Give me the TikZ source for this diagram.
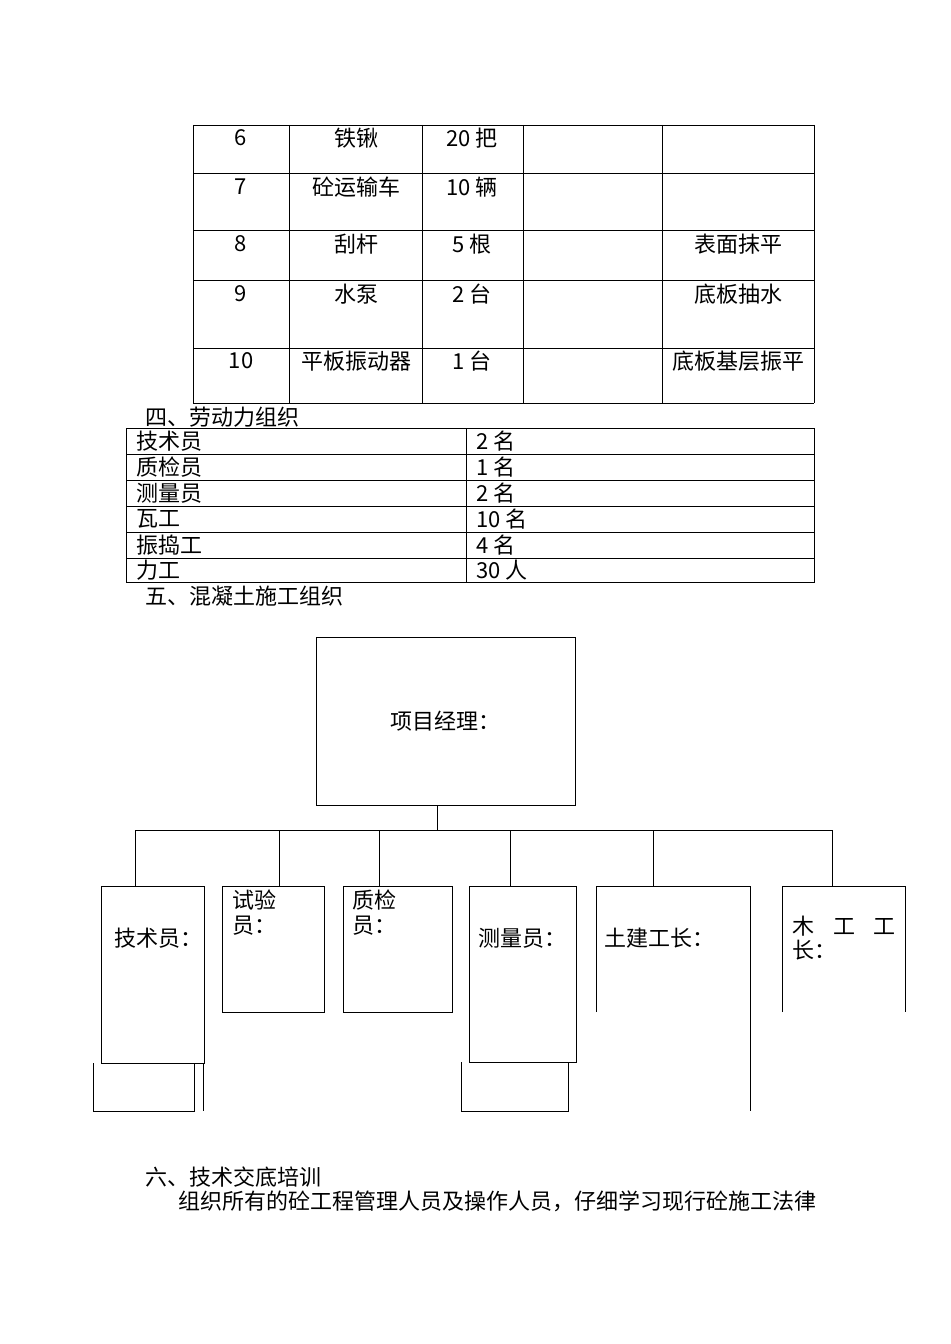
\documentclass[tikz,border=0pt]{standalone}
\usepackage{fontspec}
\setmainfont{Liberation Serif}
\newfontfamily\cjk{Noto Sans CJK SC}
\begin{document}
\begin{tikzpicture}[x=0.75pt,y=-0.75pt,line width=0.6pt,
  tx/.style={font=\cjk\fontsize{16.5}{19}\selectfont,inner sep=0pt},
  lt/.style={tx,anchor=west}]
\useasboundingbox[fill=white] (0,0) rectangle (950,1344);
% top table
\foreach \x in {193,289,422,523,662,814} \draw (\x,125) -- (\x,403);
\foreach \y in {125,173,230,280,348,403} \draw (193,\y) -- (814,\y);
\foreach \y/\a/\b/\c/\d in {138/6/铁锹/20 把/, 187/7/砼运输车/10 辆/, 244/8/刮杆/5 根/表面抹平, 294/9/水泵/2 台/底板抽水, 361/10/平板振动器/1 台/底板基层振平}{
  \node[tx] at (241,\y) {\a};
  \node[tx] at (356,\y) {\b};
  \node[tx] at (472,\y) {\c};
  \node[tx] at (738,\y) {\d};
}
\node[lt] (h4) at (145,417) {四、劳动力组织};
% labor table
\draw (126,428) rectangle (814,582);
\draw (466,428) -- (466,582);
\foreach \y in {454,480,506,532,558} \draw (126,\y) -- (814,\y);
\foreach \y/\a/\b in {441/技术员/2 名, 467/质检员/1 名, 493/测量员/2 名, 519/瓦工/10 名, 545/振捣工/4 名, 570/力工/30 人}{
  \node[lt] at (136,\y) {\a};
  \node[lt] at (476,\y) {\b};
}
\node[lt] (h5) at (145,596) {五、混凝土施工组织};
% org chart
\node[draw,minimum width=259*0.75pt,minimum height=168*0.75pt,tx,inner sep=0pt] (pm) at (445.5,721) {项目经理：};
\coordinate (j) at (437,830);
\draw (pm.south -| j) -- (j);
\draw (135,830) -- (832,830);
\foreach \x in {135,279,379,510,653,832} \draw (\x,830) -- (\x,886);
\draw (101,886) rectangle (204,1063);
\draw (93,1063) -- (93,1111) -- (194,1111) -- (194,1063);
\draw (203,1063) -- (203,1111);
\draw (222,886) rectangle (324,1012);
\draw (343,886) rectangle (452,1012);
\draw (469,886) rectangle (576,1062);
\draw (461,1062) -- (461,1111) -- (568,1111) -- (568,1062);
\draw (596,1012) -- (596,886) -- (750,886) -- (750,1111);
\draw (782,1012) -- (782,886) -- (905,886) -- (905,1012);
\node[lt] (t1) at (114,938) {技术员：};
\node[lt] (t2) at (232,900) {试验};
\node[lt] at (232,926) {员：};
\node[lt] (t3) at (352,900) {质检};
\node[lt] at (352,926) {员：};
\node[lt] (t4) at (478,938) {测量员：};
\node[lt] (t5) at (604,938) {土建工长：};
\node[lt] (t6) at (792,926) {木\hspace{14pt}工\hspace{14pt}工};
\node[lt] at (792,950) {长：};
\node[lt] (h6) at (145,1177) {六、技术交底培训};
\node[lt] (p) at (178,1201) {组织所有的砼工程管理人员及操作人员，仔细学习现行砼施工法律};
\end{tikzpicture}
\end{document}
